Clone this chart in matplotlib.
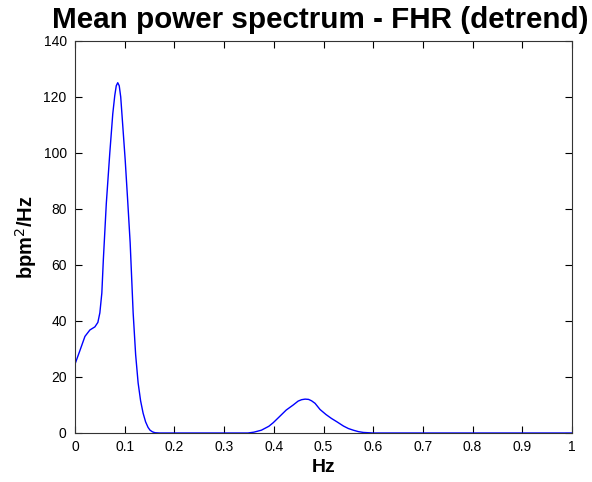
import matplotlib
matplotlib.use("Agg")
import matplotlib.pyplot as plt

plt.rcParams['font.family'] = ['Liberation Sans', 'DejaVu Sans']

freq_hz = [0.000, 0.010, 0.020, 0.030, 0.040, 0.046, 0.050, 0.054, 0.057, 0.063,
           0.070, 0.076, 0.080, 0.083, 0.086, 0.089, 0.092, 0.096, 0.101, 0.106,
           0.111, 0.117, 0.122, 0.127, 0.132, 0.137, 0.142, 0.147, 0.151, 0.156,
           0.161, 0.170, 0.200, 0.300, 0.348, 0.360, 0.375, 0.390, 0.399, 0.410,
           0.425, 0.439, 0.449, 0.456, 0.463, 0.470, 0.476, 0.483, 0.493, 0.505,
           0.516, 0.527, 0.540, 0.550, 0.560, 0.570, 0.580, 0.600, 0.700, 0.800,
           0.900, 1.000]
power = [24.6, 29.5, 34.5, 36.8, 37.9, 39.5, 42.9, 50.0, 61.8, 82.0,
         100.0, 114.0, 120.5, 124.0, 125.1, 124.0, 120.0, 110.0, 97.5, 83.0,
         67.9, 42.9, 28.0, 17.9, 11.5, 7.1, 4.0, 2.0, 1.0, 0.4,
         0.1, 0.0, 0.0, 0.0, 0.0, 0.3, 1.0, 2.4, 3.7, 5.6,
         8.2, 10.0, 11.4, 11.9, 12.1, 12.0, 11.5, 10.6, 8.4, 6.6,
         5.2, 4.0, 2.5, 1.6, 1.0, 0.5, 0.2, 0.0, 0.0, 0.0,
         0.0, 0.0]

x_ticks = [0, 0.1, 0.2, 0.3, 0.4, 0.5, 0.6, 0.7, 0.8, 0.9, 1]
x_tick_labels = ['0', '0.1', '0.2', '0.3', '0.4', '0.5', '0.6', '0.7', '0.8', '0.9', '1']
y_ticks = [0, 20, 40, 60, 80, 100, 120, 140]

fig = plt.figure(figsize=(5.92, 4.82), dpi=100)
ax = fig.add_axes([75/592, 1-433/482, (572-75)/592, (433-41)/482])
ax.plot(freq_hz, power, color='#0000ff', linewidth=1.0)
ax.set_xlim(0, 1)
ax.set_ylim(0, 140)
ax.set_xticks(x_ticks)
ax.set_xticklabels(x_tick_labels)
ax.set_yticks(y_ticks)
ax.tick_params(direction='in', length=5, width=0.8, top=True, right=True,
               labelsize=10, colors='black')
ax.tick_params(axis='y', pad=6)
ax.tick_params(axis='x', pad=5)
for s in ax.spines.values():
    s.set_linewidth(0.8)
    s.set_color('#333333')
ax.set_title('Mean power spectrum - FHR (detrend)', fontsize=21.3, fontweight='bold',
             x=0.493, pad=9)
ax.set_xlabel('Hz', fontsize=14, fontweight='bold', labelpad=4)
ax.set_ylabel('bpm$^2$/Hz', fontsize=14.5, fontweight='bold', labelpad=3)
fig.savefig('out.png', dpi=100)
